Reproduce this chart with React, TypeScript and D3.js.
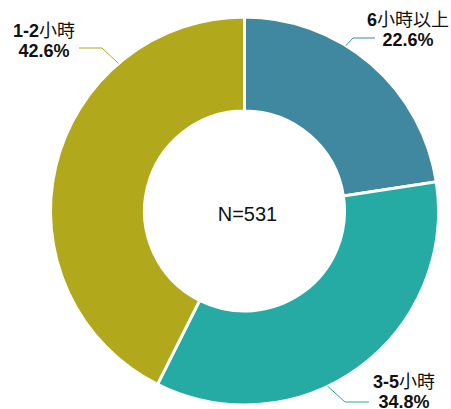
import { useEffect, useRef } from "react";
import * as d3 from "d3";

// slice order: clockwise from 12 o'clock
const categories = ["6小時以上", "3-5小時", "1-2小時"];
const numParts = ["6", "3-5", "1-2"];
const unitParts = ["小時以上", "小時", "小時"];
const values = [22.6, 34.8, 42.6];
const colors = ["#3f889f", "#25aba4", "#b2a81b"];
const totalLabel = "N=531";

const W = 451;
const H = 409;

// label layout: leader start angle (deg from top), elbow/end points, text centre
const labelLayout = [
  { angle: 31.5, elbow: [353, 38], end: [375, 38], tx: 408, ty: 26 },
  { angle: 154.6, elbow: [345, 402], end: [369, 402], tx: 404, ty: 388 },
  { angle: -40.5, elbow: [102, 48], end: [79, 48], tx: 44, ty: 37 },
];

export default function App() {
  const ref = useRef<SVGSVGElement>(null);

  useEffect(() => {
    const svg = d3.select(ref.current);
    svg.selectAll("*").remove();

    const cx = 244.5;
    const cy = 211;
    const outerR = 194;
    const innerR = 100;

    const g = svg.append("g").attr("transform", `translate(${cx},${cy})`);

    const pie = d3
      .pie<number>()
      .sort(null)
      .value((d) => d);
    const arc = d3
      .arc<d3.PieArcDatum<number>>()
      .innerRadius(innerR)
      .outerRadius(outerR);

    g.selectAll("path.slice")
      .data(pie(values))
      .join("path")
      .attr("class", "slice")
      .attr("d", arc)
      .attr("fill", (_, i) => colors[i])
      .attr("stroke", "#fff")
      .attr("stroke-width", 3)
      .attr("stroke-linejoin", "miter");

    g.append("text")
      .attr("x", 3)
      .attr("y", 3)
      .attr("text-anchor", "middle")
      .attr("dominant-baseline", "central")
      .attr("font-family", "'Liberation Sans', Arial, sans-serif")
      .attr("font-size", 20)
      .attr("fill", "#111")
      .text(totalLabel);

    // labels + leader lines
    const font = "'Liberation Sans', 'Noto Sans CJK TC', sans-serif";
    categories.forEach((c, i) => {
      const L = labelLayout[i];
      const a = (L.angle * Math.PI) / 180;
      const sx = cx + outerR * Math.sin(a);
      const sy = cy - outerR * Math.cos(a);
      svg
        .append("polyline")
        .attr("points", `${sx},${sy} ${L.elbow[0]},${L.elbow[1]} ${L.end[0]},${L.end[1]}`)
        .attr("fill", "none")
        .attr("stroke", colors[i])
        .attr("stroke-width", 1);

      const t = svg
        .append("text")
        .attr("x", L.tx)
        .attr("y", L.ty)
        .attr("text-anchor", "middle")
        .attr("font-family", font)
        .attr("font-size", 18)
        .attr("fill", "#111");
      t.append("tspan").attr("font-weight", "bold").text(numParts[i]);
      t.append("tspan").attr("font-weight", "normal").text(unitParts[i]);

      svg
        .append("text")
        .attr("x", L.tx)
        .attr("y", L.ty + 20)
        .attr("text-anchor", "middle")
        .attr("font-family", font)
        .attr("font-size", 18)
        .attr("font-weight", "bold")
        .attr("fill", "#111")
        .text(`${values[i].toFixed(1)}%`);
    });
  }, []);

  return (
    <svg
      ref={ref}
      width={W}
      height={H}
      style={{ position: "absolute", left: 0, top: 0, background: "#fff" }}
    />
  );
}
